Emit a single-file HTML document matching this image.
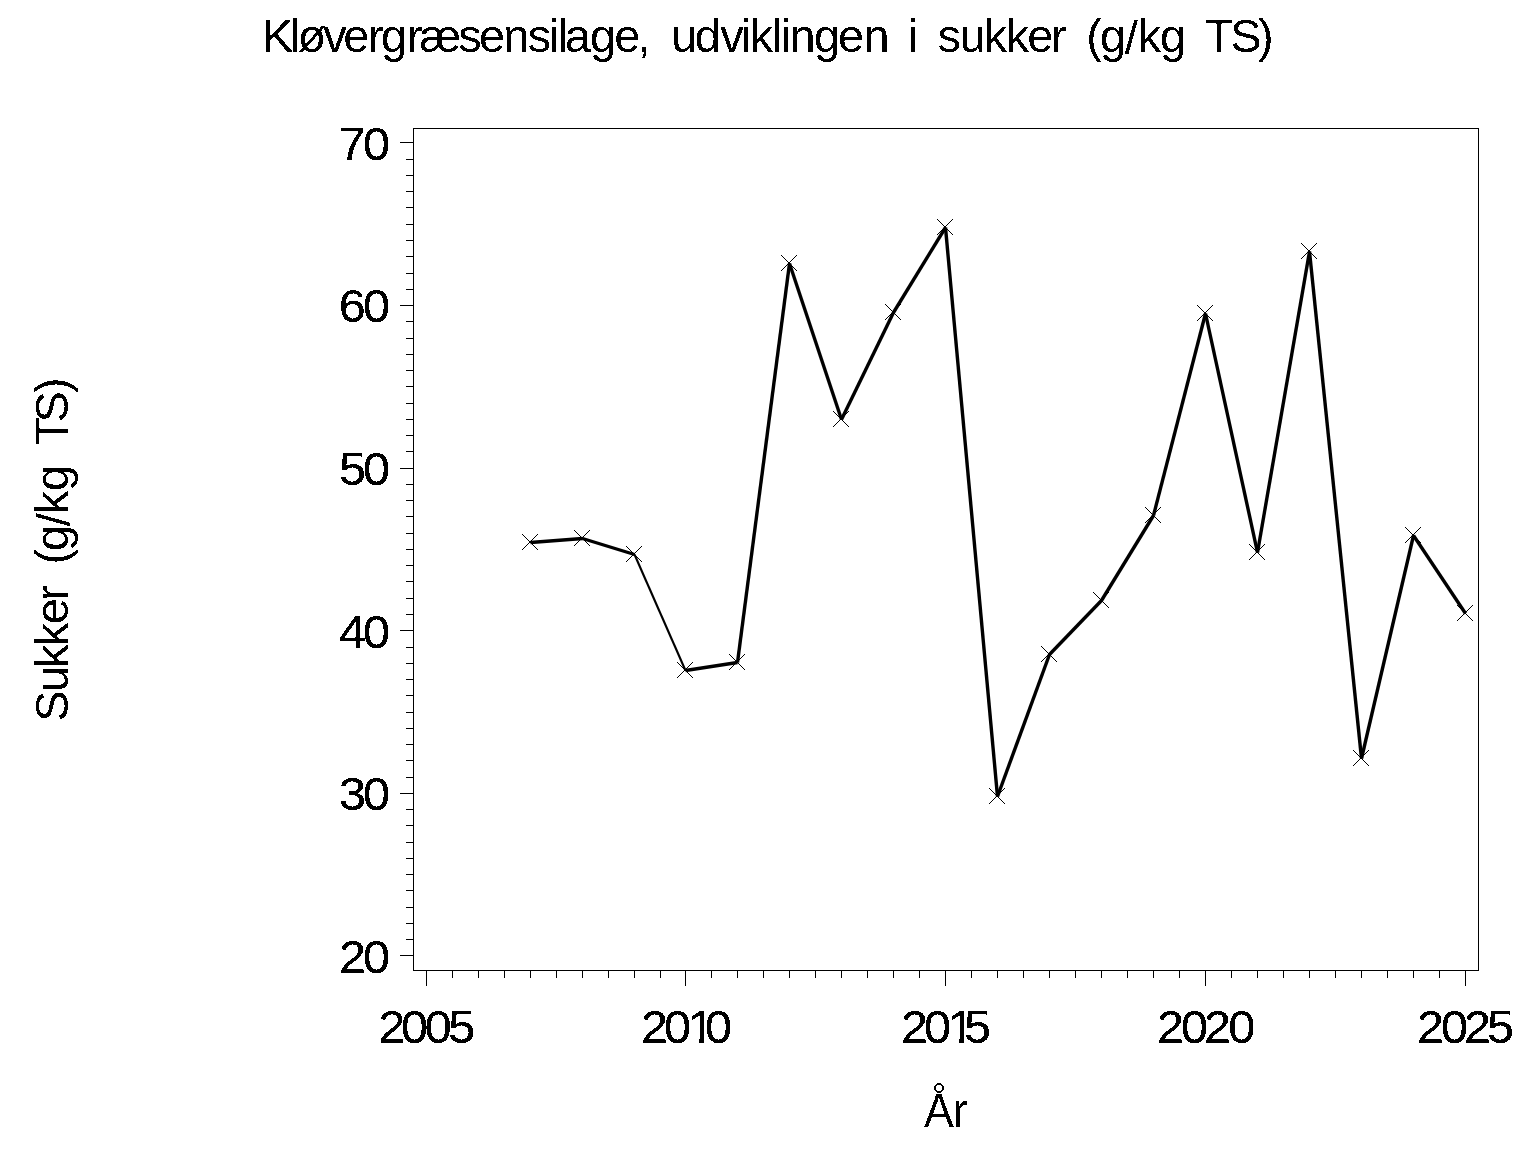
<!DOCTYPE html>
<html><head><meta charset="utf-8"><title>Kløvergræsensilage, udviklingen i sukker (g/kg TS)</title>
<style>html,body{margin:0;padding:0;background:#fff;}body{width:1536px;height:1152px;overflow:hidden;position:relative;}svg{position:absolute;left:0;top:0;will-change:transform;}text{font-family:"Liberation Sans", sans-serif;fill:#000;white-space:pre;}</style></head><body>
<svg width="1536" height="1152" viewBox="0 0 1536 1152">
<rect x="0" y="0" width="1536" height="1152" fill="#fff"/>
<g fill="#000" shape-rendering="crispEdges">
<rect x="413" y="128" width="1066" height="1"/>
<rect x="413" y="970" width="1066" height="1"/>
<rect x="413" y="128" width="1" height="843"/>
<rect x="1478" y="128" width="1" height="843"/>
<rect x="400" y="955" width="13" height="1"/>
<rect x="406" y="939" width="7" height="1"/>
<rect x="406" y="923" width="7" height="1"/>
<rect x="406" y="907" width="7" height="1"/>
<rect x="406" y="890" width="7" height="1"/>
<rect x="406" y="874" width="7" height="1"/>
<rect x="406" y="858" width="7" height="1"/>
<rect x="406" y="842" width="7" height="1"/>
<rect x="406" y="825" width="7" height="1"/>
<rect x="406" y="809" width="7" height="1"/>
<rect x="400" y="793" width="13" height="1"/>
<rect x="406" y="777" width="7" height="1"/>
<rect x="406" y="760" width="7" height="1"/>
<rect x="406" y="744" width="7" height="1"/>
<rect x="406" y="728" width="7" height="1"/>
<rect x="406" y="712" width="7" height="1"/>
<rect x="406" y="695" width="7" height="1"/>
<rect x="406" y="679" width="7" height="1"/>
<rect x="406" y="663" width="7" height="1"/>
<rect x="406" y="647" width="7" height="1"/>
<rect x="400" y="630" width="13" height="1"/>
<rect x="406" y="614" width="7" height="1"/>
<rect x="406" y="598" width="7" height="1"/>
<rect x="406" y="581" width="7" height="1"/>
<rect x="406" y="565" width="7" height="1"/>
<rect x="406" y="549" width="7" height="1"/>
<rect x="406" y="533" width="7" height="1"/>
<rect x="406" y="516" width="7" height="1"/>
<rect x="406" y="500" width="7" height="1"/>
<rect x="406" y="484" width="7" height="1"/>
<rect x="400" y="468" width="13" height="1"/>
<rect x="406" y="451" width="7" height="1"/>
<rect x="406" y="435" width="7" height="1"/>
<rect x="406" y="419" width="7" height="1"/>
<rect x="406" y="403" width="7" height="1"/>
<rect x="406" y="386" width="7" height="1"/>
<rect x="406" y="370" width="7" height="1"/>
<rect x="406" y="354" width="7" height="1"/>
<rect x="406" y="338" width="7" height="1"/>
<rect x="406" y="321" width="7" height="1"/>
<rect x="400" y="305" width="13" height="1"/>
<rect x="406" y="289" width="7" height="1"/>
<rect x="406" y="273" width="7" height="1"/>
<rect x="406" y="256" width="7" height="1"/>
<rect x="406" y="240" width="7" height="1"/>
<rect x="406" y="224" width="7" height="1"/>
<rect x="406" y="207" width="7" height="1"/>
<rect x="406" y="191" width="7" height="1"/>
<rect x="406" y="175" width="7" height="1"/>
<rect x="406" y="159" width="7" height="1"/>
<rect x="400" y="142" width="13" height="1"/>
<rect x="426" y="971" width="1" height="15"/>
<rect x="452" y="971" width="1" height="7"/>
<rect x="478" y="971" width="1" height="7"/>
<rect x="504" y="971" width="1" height="7"/>
<rect x="530" y="971" width="1" height="7"/>
<rect x="556" y="971" width="1" height="7"/>
<rect x="582" y="971" width="1" height="7"/>
<rect x="608" y="971" width="1" height="7"/>
<rect x="634" y="971" width="1" height="7"/>
<rect x="660" y="971" width="1" height="7"/>
<rect x="685" y="971" width="1" height="15"/>
<rect x="711" y="971" width="1" height="7"/>
<rect x="737" y="971" width="1" height="7"/>
<rect x="763" y="971" width="1" height="7"/>
<rect x="789" y="971" width="1" height="7"/>
<rect x="815" y="971" width="1" height="7"/>
<rect x="841" y="971" width="1" height="7"/>
<rect x="867" y="971" width="1" height="7"/>
<rect x="893" y="971" width="1" height="7"/>
<rect x="919" y="971" width="1" height="7"/>
<rect x="945" y="971" width="1" height="15"/>
<rect x="971" y="971" width="1" height="7"/>
<rect x="997" y="971" width="1" height="7"/>
<rect x="1023" y="971" width="1" height="7"/>
<rect x="1049" y="971" width="1" height="7"/>
<rect x="1075" y="971" width="1" height="7"/>
<rect x="1101" y="971" width="1" height="7"/>
<rect x="1127" y="971" width="1" height="7"/>
<rect x="1153" y="971" width="1" height="7"/>
<rect x="1179" y="971" width="1" height="7"/>
<rect x="1205" y="971" width="1" height="15"/>
<rect x="1231" y="971" width="1" height="7"/>
<rect x="1257" y="971" width="1" height="7"/>
<rect x="1283" y="971" width="1" height="7"/>
<rect x="1309" y="971" width="1" height="7"/>
<rect x="1335" y="971" width="1" height="7"/>
<rect x="1361" y="971" width="1" height="7"/>
<rect x="1387" y="971" width="1" height="7"/>
<rect x="1413" y="971" width="1" height="7"/>
<rect x="1439" y="971" width="1" height="7"/>
<rect x="1465" y="971" width="1" height="15"/>
</g>
<defs><filter id="bw" x="-5%" y="-5%" width="110%" height="110%" color-interpolation-filters="sRGB"><feComponentTransfer><feFuncA type="discrete" tableValues="0 1"/></feComponentTransfer></filter><clipPath id="one"><path d="M-5 -50H40V-3.60H15.76V2H11.14V-3.60H-5Z"/></clipPath></defs>
<g stroke="#000" fill="none" stroke-linecap="butt">
<line x1="530.50" y1="542.50" x2="582.50" y2="538.50" stroke-width="3.40"/>
<line x1="582.50" y1="538.50" x2="634.50" y2="554.50" stroke-width="3.40"/>
<line x1="634.50" y1="554.50" x2="685.50" y2="670.50" stroke-width="2.10"/>
<line x1="685.50" y1="670.50" x2="737.50" y2="662.50" stroke-width="3.40"/>
<line x1="737.50" y1="662.50" x2="789.50" y2="263.50" stroke-width="3.40"/>
<line x1="789.50" y1="263.50" x2="841.50" y2="419.50" stroke-width="3.40"/>
<line x1="841.50" y1="419.50" x2="893.50" y2="312.50" stroke-width="3.40"/>
<line x1="893.50" y1="312.50" x2="945.50" y2="227.50" stroke-width="3.40"/>
<line x1="945.50" y1="227.50" x2="997.50" y2="796.50" stroke-width="3.40"/>
<line x1="997.50" y1="796.50" x2="1049.50" y2="654.50" stroke-width="3.40"/>
<line x1="1049.50" y1="654.50" x2="1101.50" y2="600.50" stroke-width="3.40"/>
<line x1="1101.50" y1="600.50" x2="1153.50" y2="515.50" stroke-width="3.40"/>
<line x1="1153.50" y1="515.50" x2="1205.50" y2="313.50" stroke-width="3.40"/>
<line x1="1205.50" y1="313.50" x2="1257.50" y2="552.50" stroke-width="3.40"/>
<line x1="1257.50" y1="552.50" x2="1309.50" y2="251.50" stroke-width="3.40"/>
<line x1="1309.50" y1="251.50" x2="1361.50" y2="758.50" stroke-width="3.40"/>
<line x1="1361.50" y1="758.50" x2="1413.50" y2="535.50" stroke-width="3.40"/>
<line x1="1413.50" y1="535.50" x2="1465.50" y2="613.50" stroke-width="3.40"/>
</g>
<g stroke="#000" stroke-width="1" shape-rendering="crispEdges">
<path d="M522.0 534.0L538.0 550.0M522.0 550.0L538.0 534.0"/>
<path d="M574.0 530.0L590.0 546.0M574.0 546.0L590.0 530.0"/>
<path d="M626.0 546.0L642.0 562.0M626.0 562.0L642.0 546.0"/>
<path d="M677.0 662.0L693.0 678.0M677.0 678.0L693.0 662.0"/>
<path d="M729.0 654.0L745.0 670.0M729.0 670.0L745.0 654.0"/>
<path d="M781.0 255.0L797.0 271.0M781.0 271.0L797.0 255.0"/>
<path d="M833.0 411.0L849.0 427.0M833.0 427.0L849.0 411.0"/>
<path d="M885.0 304.0L901.0 320.0M885.0 320.0L901.0 304.0"/>
<path d="M937.0 219.0L953.0 235.0M937.0 235.0L953.0 219.0"/>
<path d="M989.0 788.0L1005.0 804.0M989.0 804.0L1005.0 788.0"/>
<path d="M1041.0 646.0L1057.0 662.0M1041.0 662.0L1057.0 646.0"/>
<path d="M1093.0 592.0L1109.0 608.0M1093.0 608.0L1109.0 592.0"/>
<path d="M1145.0 507.0L1161.0 523.0M1145.0 523.0L1161.0 507.0"/>
<path d="M1197.0 305.0L1213.0 321.0M1197.0 321.0L1213.0 305.0"/>
<path d="M1249.0 544.0L1265.0 560.0M1249.0 560.0L1265.0 544.0"/>
<path d="M1301.0 243.0L1317.0 259.0M1301.0 259.0L1317.0 243.0"/>
<path d="M1353.0 750.0L1369.0 766.0M1353.0 766.0L1369.0 750.0"/>
<path d="M1405.0 527.0L1421.0 543.0M1405.0 543.0L1421.0 527.0"/>
<path d="M1457.0 605.0L1473.0 621.0M1457.0 621.0L1473.0 605.0"/>
</g>
<g filter="url(#bw)">
<text transform="translate(0.00 52.00)" font-size="47" x="262.01 289.72 297.53 323.20 343.18 368.00 381.01 407.10 419.29 458.25 478.98 503.30 527.70 548.84 557.92 564.78 589.96 614.18 637.57 650.63 671.26 694.81 720.20 740.79 749.68 771.77 780.89 789.40 814.01 838.03 863.50 889.64 907.74 918.18 937.40 959.46 983.68 1005.73 1027.13 1051.10 1066.76 1086.30 1100.06 1124.72 1137.63 1159.96 1186.10 1204.66 1230.29 1257.92" y="0 0 0 0 0 0 0 0 0 0 0 0 0 0 0 0 0 0 0 0 0 0 0 0 0 0 0 0 0 0 0 0 0 0 0 0 0 0 0 0 0 0 0 2.2 0 0 0 0 0 0" id="title">Kløvergræsensilage, udviklingen i sukker (g/kg TS)</text>
<clipPath id="aclip"><path d="M982.70 1.00L996.18 -33.05L1001.55 -33.05L1014.81 1.00ZM1012.29 -45H1043.29V12H1012.29Z"/></clipPath>
<text transform="translate(0.00 1127.00) scale(0.9400 1)" font-size="48" x="982.75 1013.29" id="xlab" clip-path="url(#aclip)">År</text>
<path transform="translate(0.00 1127.00) scale(0.9400 1)" d="M996.32 -33.02L1001.41 -33.02L1002.71 -29.77L994.99 -29.77Z"/>
<circle cx="939" cy="1088" r="4" fill="none" stroke="#000" stroke-width="2"/>
<text transform="translate(67.80 0.00) rotate(-90)" font-size="47" x="-721.86 -692.14 -668.07 -646.32 -624.17 -600.65 -584.99 -564.52 -551.04 -526.25 -514.27 -491.04 -464.90 -445.34 -422.51 -392.91" y="0 0 0 0 0 0 0 0 0 2.2 0 0 0 0 0 0" id="ylab">Sukker (g/kg TS)</text>
<text transform="translate(0.00 1043.00) scale(1.0670 1)" font-size="45.5" x="354.55 375.73 398.03 420.10" id="x2005" stroke="#000" stroke-width="0.20">2005</text>
<clipPath id="cx2010"><path clip-rule="evenodd" d="M-100 -80H3000V40H-100ZM646.27 -3.60H655.44V3H646.27ZM660.06 -3.60L664.72 -3.60L667.78 -1.63L667.78 3L660.06 3Z"/></clipPath>
<text transform="translate(0.00 1043.00) scale(1.0670 1)" font-size="45.5" x="600.75 622.31 644.30 660.82" id="x2010" clip-path="url(#cx2010)" stroke="#000" stroke-width="0.20">2010</text>
<clipPath id="cx2015"><path clip-rule="evenodd" d="M-100 -80H3000V40H-100ZM889.94 -3.60H899.11V3H889.94ZM903.73 -3.60L907.41 -3.60L911.45 -1.00L911.45 3L903.73 3Z"/></clipPath>
<text transform="translate(0.00 1043.00) scale(1.0670 1)" font-size="45.5" x="844.42 865.98 887.97 903.51" id="x2015" clip-path="url(#cx2015)" stroke="#000" stroke-width="0.20">2015</text>
<text transform="translate(0.00 1043.00) scale(1.0670 1)" font-size="45.5" x="1084.44 1106.75 1128.49 1151.08" id="x2020" stroke="#000" stroke-width="0.20">2020</text>
<text transform="translate(0.00 1043.00) scale(1.0670 1)" font-size="45.5" x="1328.12 1350.42 1372.16 1393.67" id="x2025" stroke="#000" stroke-width="0.20">2025</text>
<text transform="translate(0.00 972.80) scale(1.0670 1)" font-size="45.5" x="317.62 340.11" id="y20" stroke="#000" stroke-width="0.20">20</text>
<text transform="translate(0.00 810.20) scale(1.0670 1)" font-size="45.5" x="317.75 340.11" id="y30" stroke="#000" stroke-width="0.20">30</text>
<text transform="translate(0.00 647.60) scale(1.0670 1)" font-size="45.5" x="317.76 340.11" id="y40" stroke="#000" stroke-width="0.20">40</text>
<text transform="translate(0.00 485.00) scale(1.0670 1)" font-size="45.5" x="317.66 340.11" id="y50" stroke="#000" stroke-width="0.20">50</text>
<text transform="translate(0.00 322.40) scale(1.0670 1)" font-size="45.5" x="317.46 340.11" id="y60" stroke="#000" stroke-width="0.20">60</text>
<text transform="translate(0.00 159.80) scale(1.0670 1)" font-size="45.5" x="317.60 340.11" id="y70" stroke="#000" stroke-width="0.20">70</text>
</g>
</svg></body></html>
